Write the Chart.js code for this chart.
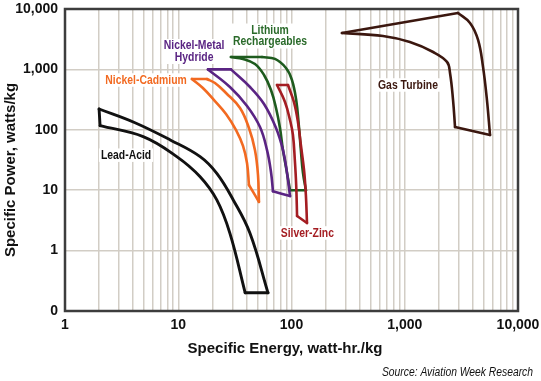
<!DOCTYPE html>
<html>
<head>
<meta charset="utf-8">
<script src="https://cdn.jsdelivr.net/npm/chart.js@4/dist/chart.umd.min.js"></script>
<style>
  html, body { margin: 0; padding: 0; background: #fff; }
  #wrap { width: 541px; height: 381px; position: relative; }
</style>
</head>
<body>
<div id="wrap"><canvas id="c" width="541" height="381"></canvas></div>
<script>
// ---- axis ticks ----
const xDecades = [1, 10, 100, 1000, 10000];
const xTickLabels = ['1', '10', '100', '1,000', '10,000'];
const yDecades = [0.1, 1, 10, 100, 1000, 10000];
const yTickLabels = ['0', '1', '10', '100', '1,000', '10,000'];
const gridMultipliers = [1, 2, 3, 4, 5, 6, 7, 8, 9];

// ---- series (outline of each region: specific energy, specific power) ----
const seriesNames = ['Lead-Acid', 'Nickel-Cadmium', 'Nickel-Metal Hydride', 'Lithium Rechargeables', 'Silver-Zinc', 'Gas Turbine'];

const leadAcidEnergy = [2.0, 4.15, 8.5, 15.6, 21.9, 30.6, 43, 62, 39, 28.6, 21.9, 15.6, 9.7, 4.9, 2.04, 2.0];
const leadAcidPower  = [221, 131, 68, 36, 19, 6.9, 1.93, 0.2, 0.2, 1.93, 6.9, 16.7, 36, 77, 117, 221];
const leadAcidCorners = [0, 7, 8, 14, 15];

const nickelCadmiumEnergy = [13.2, 16.5, 20.7, 26.4, 32.4, 37.3, 40.5, 42.1, 51.6, 50.6, 47.6, 42.1, 35.1, 26.4, 21.1, 17.9, 13.2];
const nickelCadmiumPower  = [694, 492, 311, 183, 99, 54, 28, 12.2, 6.4, 17.9, 46, 107, 230, 407, 595, 694, 694];
const nickelCadmiumCorners = [0, 7, 8, 15, 16];

const nickelMetalEnergy = [18.3, 28.6, 40.5, 52.7, 60.8, 65.9, 68.6, 97, 91.3, 84.1, 73.0, 57.2, 43.0, 29.2, 18.3];
const nickelMetalPower  = [1000, 511, 248, 111, 46, 20, 9.6, 8.0, 19.3, 46, 107, 267, 511, 1000, 1000];
const nickelMetalCorners = [0, 6, 7, 13, 14];

const lithiumEnergy = [29.2, 54.9, 71.5, 89.4, 101, 110, 116, 121, 126, 134, 97, 91.3, 84.1, 79.1, 73, 65.9, 57.2, 47.6, 37.3, 29.2];
const lithiumPower  = [1600, 1600, 1490, 1055, 667, 311, 120, 46, 20, 10, 10, 19.3, 46, 107, 230, 456, 808, 1228, 1490, 1600];
const lithiumCorners = [0, 1, 9, 10, 19];

const silverZincEnergy = [74.5, 93.1, 105, 114, 121, 129, 134, 137, 112, 110, 107, 103, 97, 87.6, 74.5];
const silverZincPower  = [552, 552, 289, 135, 56, 21.6, 8.3, 2.86, 3.74, 12.2, 31.6, 82, 145, 289, 552];
const silverZincCorners = [0, 1, 7, 8, 14];

const gasTurbineEnergy = [279, 2950, 3770, 4440, 4910, 5320, 5660, 2780, 2670, 2510, 2360, 1780, 1110, 643, 279];
const gasTurbinePower  = [4000, 8590, 5870, 3070, 1100, 311, 82, 111, 311, 872, 1330, 1940, 2840, 3570, 4000];
const gasTurbineCorners = [0, 1, 6, 7, 14];

// ---- build library structures ----
const xGridValues = [];
xDecades.slice(0, -1).forEach(d => gridMultipliers.forEach(m => xGridValues.push(d * m)));
xGridValues.push(xDecades[xDecades.length - 1]);

function labelFor(values, labels, v) {
  const i = values.findIndex(d => Math.abs(d - v) / d < 1e-6);
  return i >= 0 ? labels[i] : '';
}

const colors = {
  lead: '#111111', nicd: '#f26a21', nimh: '#5a2483', li: '#1e5b1e', agzn: '#a41d22', gas: '#3b170f'
};

// one dataset per edge of an outline, so corners stay sharp and edges stay smooth
function outline(name, ex, py, corners, color, width) {
  const out = [];
  for (let k = 0; k < corners.length - 1; k++) {
    const data = [];
    for (let i = corners[k]; i <= corners[k + 1]; i++) data.push({ x: ex[i], y: py[i] });
    out.push({
      label: name, data: data, showLine: true, borderColor: color, backgroundColor: color,
      borderWidth: width || 2.6, pointRadius: 0, pointHoverRadius: 0, tension: 0.4, fill: false,
      borderCapStyle: 'round', borderJoinStyle: 'round'
    });
  }
  return out;
}

// earlier datasets are drawn on top
const datasets = [].concat(
  outline(seriesNames[2], nickelMetalEnergy, nickelMetalPower, nickelMetalCorners, colors.nimh),
  outline(seriesNames[4], silverZincEnergy, silverZincPower, silverZincCorners, colors.agzn),
  outline(seriesNames[1], nickelCadmiumEnergy, nickelCadmiumPower, nickelCadmiumCorners, colors.nicd),
  outline(seriesNames[3], lithiumEnergy, lithiumPower, lithiumCorners, colors.li),
  outline(seriesNames[0], leadAcidEnergy, leadAcidPower, leadAcidCorners, colors.lead, 2.9),
  outline(seriesNames[5], gasTurbineEnergy, gasTurbinePower, gasTurbineCorners, colors.gas)
);

// region labels anchored in data coordinates
const regionLabels = [
  { lines: ['Lead-Acid'], x: 3.46, y: 38, color: colors.lead },
  { lines: ['Nickel-Cadmium'], x: 5.2, y: 667, color: colors.nicd },
  { lines: ['Nickel-Metal', 'Hydride'], x: 13.8, y: 1980, color: colors.nimh },
  { lines: ['Lithium', 'Rechargeables'], x: 64.6, y: 3570, color: '#2a6a2a' },
  { lines: ['Silver-Zinc'], x: 138, y: 1.96, color: colors.agzn },
  { lines: ['Gas Turbine'], x: 1068, y: 552, color: colors.gas }
];

const decor = {
  id: 'decor',
  afterDraw(chart) {
    const ctx = chart.ctx, a = chart.chartArea;
    const xs = chart.scales.x, ys = chart.scales.y;
    ctx.save();
    // frame
    ctx.strokeStyle = '#3d3d3d';
    ctx.lineWidth = 2.5;
    ctx.strokeRect(a.left, a.top, a.right - a.left, a.bottom - a.top);

    // region labels (condensed bold)
    const cond = 0.8, lh = 11.5;
    ctx.font = 'bold 13px "Liberation Sans", Arial, sans-serif';
    ctx.textAlign = 'center';
    ctx.textBaseline = 'middle';
    regionLabels.forEach(l => {
      const cx = xs.getPixelForValue(l.x), cy = ys.getPixelForValue(l.y);
      const n = l.lines.length;
      let w = 0;
      l.lines.forEach(t => { w = Math.max(w, ctx.measureText(t).width * cond); });
      ctx.fillStyle = '#ffffff';
      ctx.fillRect(cx - w / 2 - 2, cy - (n * lh) / 2 - 1, w + 4, n * lh + 2);
      ctx.fillStyle = l.color;
      l.lines.forEach((t, i) => {
        const ty = cy - ((n - 1) * lh) / 2 + i * lh;
        ctx.save();
        ctx.translate(cx, ty);
        ctx.scale(cond, 1);
        ctx.fillText(t, 0, 0);
        ctx.restore();
      });
    });

    // axis titles
    ctx.fillStyle = '#111111';
    ctx.font = 'bold 15px "Liberation Sans", Arial, sans-serif';
    ctx.textAlign = 'center';
    ctx.textBaseline = 'middle';
    ctx.fillText('Specific Energy, watt-hr./kg', 285, 349);
    ctx.save();
    ctx.translate(11, 170);
    ctx.rotate(-Math.PI / 2);
    ctx.fillText('Specific Power, watts/kg', 0, 0);
    ctx.restore();

    // source
    ctx.font = 'italic 12px "Liberation Sans", Arial, sans-serif';
    ctx.textAlign = 'right';
    ctx.save();
    ctx.translate(533, 373);
    ctx.scale(0.86, 1);
    ctx.fillText('Source: Aviation Week Research', 0, 0);
    ctx.restore();
    ctx.restore();
  }
};

new Chart(document.getElementById('c'), {
  type: 'scatter',
  data: { datasets },
  plugins: [decor],
  options: {
    responsive: false,
    animation: false,
    devicePixelRatio: 1,
    layout: { padding: { top: 9, right: 23, left: 0, bottom: 0 } },
    plugins: { legend: { display: false }, tooltip: { enabled: false } },
    scales: {
      x: {
        type: 'logarithmic', min: 1, max: 10000,
        afterBuildTicks: s => { s.ticks = xGridValues.map(v => ({ value: v })); },
        afterFit: s => { s.height = 70; s.paddingLeft = 0; s.paddingRight = 0; },
        ticks: {
          autoSkip: false, maxRotation: 0, padding: 6, color: '#111111',
          font: { family: '"Liberation Sans", Arial, sans-serif', size: 14, weight: 'bold' },
          callback: v => labelFor(xDecades, xTickLabels, v)
        },
        grid: { color: '#d2cdc5', lineWidth: 1.5, drawTicks: false },
        border: { display: false }
      },
      y: {
        type: 'logarithmic', min: 0.1, max: 10000,
        afterBuildTicks: s => { s.ticks = yDecades.map(v => ({ value: v })); },
        afterFit: s => { s.width = 65; s.paddingTop = 0; s.paddingBottom = 0; },
        ticks: {
          autoSkip: false, padding: 7, color: '#111111',
          font: { family: '"Liberation Sans", Arial, sans-serif', size: 14, weight: 'bold' },
          callback: v => labelFor(yDecades, yTickLabels, v)
        },
        grid: { color: '#d2cdc5', lineWidth: 1.5, drawTicks: false },
        border: { display: false }
      }
    }
  }
});
</script>
</body>
</html>
